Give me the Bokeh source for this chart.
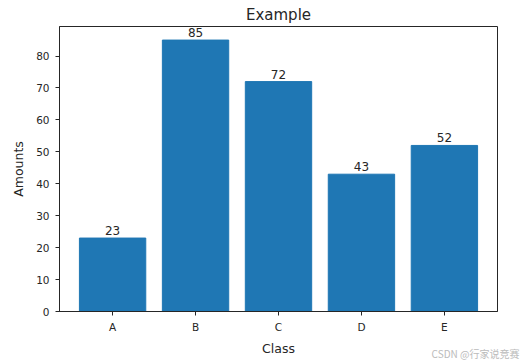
from bokeh.plotting import figure
from bokeh.models import Range1d, FixedTicker, LabelSet, ColumnDataSource, Title
from bokeh.core.properties import value
from bokeh.embed import file_html
from bokeh.resources import INLINE

categories = ["A", "B", "C", "D", "E"]
amounts = [23, 85, 72, 43, 52]
y_ticks = [0, 10, 20, 30, 40, 50, 60, 70, 80]

xs = list(range(len(categories)))
FONT = "DejaVu Sans"
INK = "#262626"

src = ColumnDataSource(dict(x=xs, top=amounts, label=[str(a) for a in amounts]))

p = figure(frame_width=438, frame_height=285,
           x_range=Range1d(-0.64, len(categories) - 1 + 0.64),
           y_range=Range1d(0, max(amounts) * 1.05),
           output_backend="svg", toolbar_location=None)
p.min_border_left = 59
p.min_border_right = 26
p.min_border_top = 26
p.min_border_bottom = 52

p.title.text = "Example"
p.title.align = "center"
p.title.text_font = FONT
p.title.text_font_size = "15px"
p.title.text_font_style = "normal"
p.title.text_color = INK
p.title.standoff = 6

p.vbar(x="x", top="top", width=0.8, color="#1f77b4", source=src)
p.add_layout(LabelSet(x="x", y="top", text="label", source=src, text_align="center",
                      text_baseline="alphabetic", y_offset=3, text_font=value(FONT),
                      text_font_size=value("12px"), text_color=INK))

for ax in (p.xaxis[0], p.yaxis[0]):
    ax.major_label_text_font = FONT
    ax.major_label_text_font_size = "10.5px"
    ax.major_label_text_color = INK
    ax.axis_label_text_font = FONT
    ax.axis_label_text_font_size = "12.5px"
    ax.axis_label_text_font_style = "normal"
    ax.axis_label_text_color = INK
    ax.axis_line_color = INK
    ax.major_tick_line_color = INK
    ax.major_tick_out = 4
    ax.major_tick_in = 0
    ax.minor_tick_line_color = None

p.xaxis.ticker = FixedTicker(ticks=xs)
p.xaxis.major_label_overrides = {i: c for i, c in enumerate(categories)}
p.xaxis.axis_label = "Class"
p.xaxis.major_label_standoff = 5
p.xaxis.axis_label_standoff = 5
p.yaxis.ticker = FixedTicker(ticks=y_ticks)
p.yaxis.axis_label = "Amounts"
p.yaxis.major_label_standoff = 6
p.yaxis.axis_label_standoff = 7

p.xgrid.grid_line_color = None
p.ygrid.grid_line_color = None
p.outline_line_color = INK
p.outline_line_alpha = 1

wm = Title(text="CSDN @行家说竞赛", align="right", vertical_align="top",
           text_font="Noto Sans CJK SC", text_font_size="10px",
           text_font_style="normal", text_color="#bbbbbb",
           standoff=-26, offset=-22)
p.add_layout(wm, "below")

open("out.html", "w").write(file_html(p, INLINE))
